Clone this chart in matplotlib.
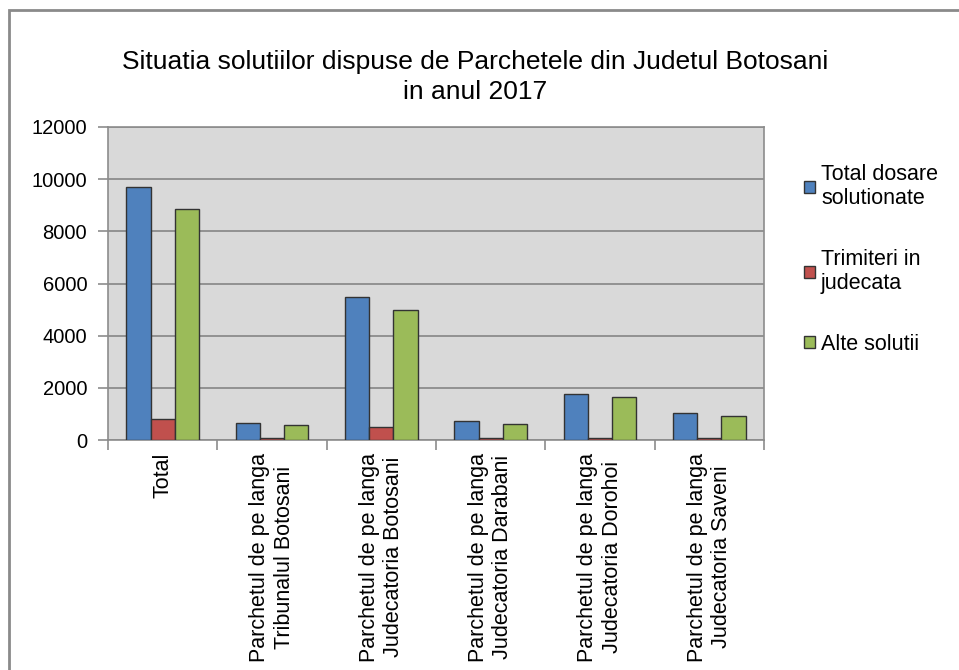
import numpy as np
import matplotlib.pyplot as plt
from matplotlib.patches import Rectangle

plt.rcParams['font.family'] = ['Liberation Sans', 'DejaVu Sans']

# Data
categories = ['Total',
              'Parchetul de pe langa\nTribunalul Botosani',
              'Parchetul de pe langa\nJudecatoria Botosani',
              'Parchetul de pe langa\nJudecatoria Darabani',
              'Parchetul de pe langa\nJudecatoria Dorohoi',
              'Parchetul de pe langa\nJudecatoria Saveni']
total_dosare = [9700, 660, 5480, 715, 1750, 1020]
trimiteri = [820, 85, 485, 85, 90, 90]
alte_solutii = [8840, 575, 4990, 625, 1660, 930]

series = [('Total dosare\nsolutionate', total_dosare, '#4F81BD'),
          ('Trimiteri in\njudecata', trimiteri, '#C0504D'),
          ('Alte solutii', alte_solutii, '#9BBB59')]

fig = plt.figure(figsize=(9.59, 6.70), dpi=100)
ax = fig.add_axes([108/959, 1-440/670, (764-108)/959, (440-127)/670])

# outer chart frame (open on right/bottom as in the crop)
fig.patches.append(Rectangle((9/959, -0.05), 1.1, 1 - 10/670 + 0.05,
                             transform=fig.transFigure, fill=False,
                             edgecolor='#8a8a8a', linewidth=2))

x = np.arange(len(categories))
w = 1 / 4.5
for i, (name, vals, col) in enumerate(series):
    ax.bar(x + (i - 1) * w, vals, w, color=col, edgecolor='#333333',
           linewidth=1, label=name, zorder=3)

ax.set_facecolor('#d9d9d9')
ax.set_xlim(-0.5, len(categories) - 0.5)
ax.set_ylim(0, 12000)
ax.set_yticks(np.arange(0, 12001, 2000))
ax.grid(axis='y', color='#8c8c8c', linewidth=1.3, zorder=0)
ax.set_axisbelow(True)
for s in ax.spines.values():
    s.set_color('#8c8c8c')
    s.set_linewidth(1.2)

ax.set_xticks(x)
ax.set_xticklabels(categories, rotation=90, ha='center', va='top',
                   multialignment='center', fontsize=15.5)
ax.set_xticks(np.arange(-0.5, len(categories)), minor=True)
ax.tick_params(axis='x', which='major', length=0, pad=9)
ax.tick_params(axis='x', which='minor', length=7, color='#8c8c8c', width=1.2)
ax.tick_params(axis='y', length=7, color='#8c8c8c', width=1.2,
               labelsize=14.5, pad=8)

fig.text(475/959, 1 - 77/670,
         'Situatia solutiilor dispuse de Parchetele din Judetul Botosani\nin anul 2017',
         ha='center', va='center', fontsize=19, linespacing=1.3)

ax.legend(loc='upper left', bbox_to_anchor=(793/959, 1 - 153/670),
          bbox_transform=fig.transFigure, frameon=False, fontsize=15.5,
          handlelength=0.5, handleheight=0.5, handletextpad=0.3,
          labelspacing=1.85, borderpad=0)

fig.savefig('out.png', dpi=100)
